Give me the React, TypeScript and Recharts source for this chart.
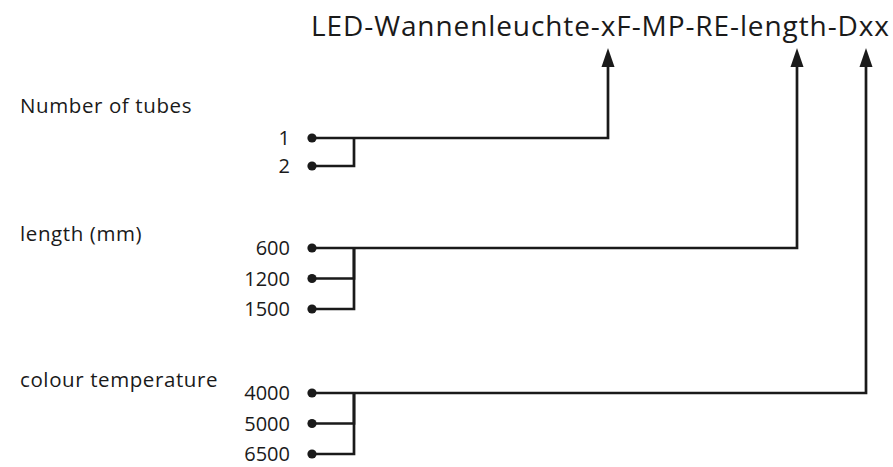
import { ComposedChart, Line, Scatter, XAxis, YAxis } from "recharts";

// what the diagram says
const title = "LED-Wannenleuchte-xF-MP-RE-length-Dxx";
const groupNames = ["Number of tubes", "length (mm)", "colour temperature"];
const tubeOptions = ["1", "2"];
const lengthOptions = ["600", "1200", "1500"];
const colourOptions = ["4000", "5000", "6500"];
const groupOptions = [tubeOptions, lengthOptions, colourOptions];

// layout (pixel units, the axes run 0..893 and 0..467 top-down)
const W = 893;
const H = 467;
const INK = "#1a1a1a";
const FONT = "'Open Sans', 'DejaVu Sans', sans-serif";
const dotX = 312;
const joinX = 354;
const optionRight = 290;
const nameX = 20;
const firstRowY = [138, 248, 393];
const rowStep = [28, 30.5, 30.5];
const nameBaseY = [113, 241, 387];
const arrowX = [608, 797, 866];
const arrowTipY = 48;
const arrowLen = 19;

const rowY = (g: number, i: number) => firstRowY[g] + i * rowStep[g];

type P = { x: number; y: number; label?: string };

// connector paths
const paths: P[][] = [];
groupOptions.forEach((opts, g) => {
  opts.forEach((_, i) => {
    if (i === 0) {
      paths.push([
        { x: dotX, y: rowY(g, 0) },
        { x: arrowX[g], y: rowY(g, 0) },
        { x: arrowX[g], y: arrowTipY + arrowLen - 1 },
      ]);
    } else {
      paths.push([
        { x: dotX, y: rowY(g, i) },
        { x: joinX, y: rowY(g, i) },
        { x: joinX, y: rowY(g, 0) },
      ]);
    }
  });
});

const dots: P[] = groupOptions.flatMap((opts, g) => opts.map((o, i) => ({ x: dotX, y: rowY(g, i), label: o })));
const optionLabels: P[] = groupOptions.flatMap((opts, g) =>
  opts.map((o, i) => ({ x: optionRight, y: rowY(g, i), label: o }))
);
const nameLabels: P[] = groupNames.map((n, g) => ({ x: nameX, y: nameBaseY[g], label: n }));
const arrows: P[] = arrowX.map((x) => ({ x, y: arrowTipY }));
const titleLabel: P[] = [{ x: 311, y: 36, label: title }];

const Arrow = (p: any) => (
  <polygon
    points={`${p.cx},${p.cy} ${p.cx - 6.5},${p.cy + arrowLen} ${p.cx + 6.5},${p.cy + arrowLen}`}
    fill={INK}
  />
);
const Dot = (p: any) => <circle cx={p.cx} cy={p.cy} r={4.6} fill={INK} />;
const OptionText = (p: any) => (
  <text x={p.cx} y={p.cy + 7} textAnchor="end" fontFamily={FONT} fontSize={20} fill={INK}>
    {p.payload.label}
  </text>
);
const NameText = (p: any) => (
  <text x={p.cx} y={p.cy} textAnchor="start" fontFamily={FONT} fontSize={20.5} letterSpacing={0.6} fill={INK}>
    {p.payload.label}
  </text>
);
const TitleText = (p: any) => (
  <text x={p.cx} y={p.cy} textAnchor="start" fontFamily={FONT} fontSize={28} textLength={578} fill={INK}>
    {p.payload.label}
  </text>
);

export default function App() {
  return (
    <div style={{ position: "absolute", left: 0, top: 0, background: "#fff" }}>
      <ComposedChart width={W} height={H} margin={{ top: 0, right: 0, bottom: 0, left: 0 }}>
        <XAxis dataKey="x" type="number" domain={[0, W]} hide />
        <YAxis dataKey="y" type="number" domain={[0, H]} reversed hide />
        {paths.map((d, i) => (
          <Line
            key={i}
            data={d}
            dataKey="y"
            type="linear"
            stroke={INK}
            strokeWidth={2.7}
            strokeLinejoin="miter"
            dot={false}
            activeDot={false}
            isAnimationActive={false}
          />
        ))}
        <Scatter data={dots} dataKey="y" shape={Dot} isAnimationActive={false} />
        <Scatter data={arrows} dataKey="y" shape={Arrow} isAnimationActive={false} />
        <Scatter data={optionLabels} dataKey="y" shape={OptionText} isAnimationActive={false} />
        <Scatter data={nameLabels} dataKey="y" shape={NameText} isAnimationActive={false} />
        <Scatter data={titleLabel} dataKey="y" shape={TitleText} isAnimationActive={false} />
      </ComposedChart>
    </div>
  );
}
